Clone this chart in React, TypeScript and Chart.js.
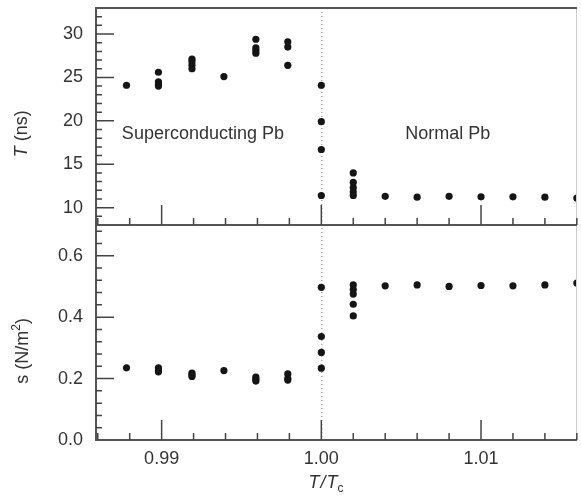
import React, { useEffect, useRef } from "react";
import { Chart, registerables } from "chart.js";

Chart.register(...registerables);

// Reduced temperature T/Tc for each measurement column
const ratio = [0.9878, 0.9898, 0.9919, 0.9939, 0.9959, 0.9979, 1.0, 1.002, 1.004, 1.006, 1.008, 1.01, 1.012, 1.014, 1.016];

// Top panel: T (ns)
const periodNs: number[][] = [
  [24.1],
  [25.6, 24.5, 24.2, 24.0],
  [27.1, 26.8, 26.4, 26.0],
  [25.1],
  [29.4, 28.4, 28.1, 27.8],
  [29.1, 28.5, 26.4],
  [24.1, 19.9, 16.7, 11.4],
  [14.0, 12.9, 12.3, 11.8, 11.4],
  [11.3],
  [11.2],
  [11.3],
  [11.25],
  [11.25],
  [11.2],
  [11.1],
];

// Bottom panel: s (N/m^2)
const stressNm2: number[][] = [
  [0.235],
  [0.235, 0.228, 0.222],
  [0.218, 0.212, 0.207],
  [0.226],
  [0.205, 0.198, 0.192],
  [0.215, 0.2, 0.195],
  [0.497, 0.337, 0.285, 0.234],
  [0.505, 0.49, 0.475, 0.442, 0.404],
  [0.502],
  [0.505],
  [0.5],
  [0.503],
  [0.502],
  [0.505],
  [0.511],
];

const xTicks = [0.99, 1.0, 1.01];
const topTicks = [10, 15, 20, 25, 30];
const bottomTicks = [0.0, 0.2, 0.4, 0.6];

const X_MIN = 0.98589;
const X_MAX = 1.01601;
const TOP_MIN = 8;
const TOP_MAX = 33;
const BOT_MIN = 0;
const BOT_MAX = 0.7;

const FONT = '"Liberation Sans", Arial, sans-serif';
const TEXT = "#333";

type Part = { t: string; italic?: boolean; size?: number; dy?: number; gap?: number };

function drawRich(ctx: CanvasRenderingContext2D, parts: Part[], cx: number, cy: number, rot: number) {
  ctx.save();
  ctx.translate(cx, cy);
  ctx.rotate(rot);
  ctx.fillStyle = TEXT;
  ctx.textBaseline = "middle";
  ctx.textAlign = "left";
  const fontOf = (p: Part) => `${p.italic ? "italic " : ""}${p.size || 18}px ${FONT}`;
  let total = 0;
  for (const p of parts) {
    ctx.font = fontOf(p);
    total += ctx.measureText(p.t).width + (p.gap || 0);
  }
  let x = -total / 2;
  for (const p of parts) {
    ctx.font = fontOf(p);
    ctx.fillText(p.t, x, p.dy || 0);
    x += ctx.measureText(p.t).width + (p.gap || 0);
  }
  ctx.restore();
}

const panelPlugin = {
  id: "panelPlugin",
  beforeDatasetsDraw(chart: any) {
    const { ctx, chartArea, scales } = chart;
    const px = scales.x.getPixelForValue(1.0);
    ctx.save();
    ctx.strokeStyle = "#777";
    ctx.lineWidth = 1;
    ctx.setLineDash([1, 3]);
    ctx.beginPath();
    ctx.moveTo(px + 0.5, chartArea.top + 4);
    ctx.lineTo(px + 0.5, chartArea.bottom);
    ctx.stroke();
    ctx.restore();
  },
  afterDraw(chart: any) {
    const { ctx, chartArea, scales } = chart;
    const sx = scales.x;
    const sy = scales.y;
    const sy2 = scales.y2;
    const left = chartArea.left;
    const right = chartArea.right;
    const mid = sy.bottom;
    const bottom = chartArea.bottom;
    const top = chartArea.top;

    ctx.save();
    // frame
    ctx.strokeStyle = "#ccc";
    ctx.lineWidth = 1;
    ctx.beginPath();
    ctx.moveTo(right - 0.5, top);
    ctx.lineTo(right - 0.5, bottom);
    ctx.stroke();

    ctx.strokeStyle = "#555";
    ctx.lineWidth = 2;
    ctx.beginPath();
    ctx.moveTo(left, top);
    ctx.lineTo(right, top);
    ctx.moveTo(left, mid);
    ctx.lineTo(right, mid);
    ctx.moveTo(left, bottom);
    ctx.lineTo(right, bottom);
    ctx.moveTo(left, top - 1);
    ctx.lineTo(left, bottom + 1);
    ctx.stroke();

    ctx.strokeStyle = "#444";
    ctx.lineWidth = 1.5;
    ctx.beginPath();
    // y ticks top panel
    for (let v = TOP_MIN + 1; v < TOP_MAX; v++) {
      const y = sy.getPixelForValue(v);
      const len = topTicks.includes(v) ? 18 : 6;
      ctx.moveTo(left, y);
      ctx.lineTo(left + len, y);
    }
    // y ticks bottom panel
    for (let i = 1; i * 0.04 < BOT_MAX - 0.001; i++) {
      const v = i * 0.04;
      const y = sy2.getPixelForValue(v);
      ctx.moveTo(left, y);
      ctx.lineTo(left + 6, y);
    }
    for (const v of bottomTicks) {
      if (v === 0) continue;
      const y = sy2.getPixelForValue(v);
      ctx.moveTo(left, y);
      ctx.lineTo(left + 18, y);
    }
    // x ticks on both panels
    for (let i = 0; i <= 15; i++) {
      const v = 0.986 + i * 0.002;
      if (v > X_MAX) break;
      const isMajor = xTicks.some((t) => Math.abs(t - v) < 1e-6);
      const x = sx.getPixelForValue(v);
      const len = isMajor ? 20 : 7;
      for (const base of [mid, bottom]) {
        ctx.moveTo(x, base);
        ctx.lineTo(x, base - len);
      }
    }
    ctx.stroke();

    // annotations
    ctx.fillStyle = TEXT;
    ctx.font = `18px ${FONT}`;
    ctx.textBaseline = "middle";
    ctx.textAlign = "left";
    ctx.fillText("Superconducting Pb", sx.getPixelForValue(0.98751), sy.getPixelForValue(18.5));
    ctx.fillText("Normal Pb", sx.getPixelForValue(1.00525), sy.getPixelForValue(18.5));

    // axis titles
    drawRich(ctx, [{ t: "T", italic: true }, { t: " (ns)" }], 22, sy.getPixelForValue(18.5), -Math.PI / 2);
    drawRich(
      ctx,
      [{ t: "s (N/m" }, { t: "2", size: 12, dy: -6 }, { t: ")" }],
      23,
      sy2.getPixelForValue(0.29),
      -Math.PI / 2
    );
    drawRich(
      ctx,
      [
        { t: "T", italic: true, gap: 1 },
        { t: "/", italic: true, gap: 1 },
        { t: "T", italic: true },
        { t: "c", size: 12, dy: 6 },
      ],
      sx.getPixelForValue(1.0003),
      483,
      0
    );
    ctx.restore();
  },
};

function pointsFrom(values: number[][]) {
  const out: { x: number; y: number }[] = [];
  values.forEach((col, i) => col.forEach((v) => out.push({ x: ratio[i], y: v })));
  return out;
}

function noPad(s: any) {
  s.paddingTop = 0;
  s.paddingBottom = 0;
  s.paddingLeft = 0;
  s.paddingRight = 0;
}

export default function App() {
  const ref = useRef<HTMLCanvasElement | null>(null);
  useEffect(() => {
    if (!ref.current) return;
    const tickFont = { family: FONT, size: 18 };
    const chart = new Chart(ref.current, {
      type: "scatter",
      data: {
        datasets: [
          {
            label: "T",
            data: pointsFrom(periodNs),
            yAxisID: "y",
            backgroundColor: "#151515",
            borderWidth: 0,
            pointRadius: 3.6,
          },
          {
            label: "s",
            data: pointsFrom(stressNm2),
            yAxisID: "y2",
            backgroundColor: "#151515",
            borderWidth: 0,
            pointRadius: 3.6,
          },
        ],
      },
      options: {
        animation: false,
        responsive: false,
        devicePixelRatio: 1,
        layout: { padding: { top: 8, right: 1, left: 0, bottom: 0 } },
        plugins: { legend: { display: false }, tooltip: { enabled: false } },
        scales: {
          x: {
            type: "linear",
            position: "bottom",
            min: X_MIN,
            max: X_MAX,
            grid: { display: false, drawTicks: false },
            border: { display: false },
            ticks: {
              font: tickFont,
              color: TEXT,
              padding: 8,
              maxRotation: 0,
              callback: (v: any) => Number(v).toFixed(2),
            },
            afterBuildTicks: (s: any) => {
              s.ticks = xTicks.map((v) => ({ value: v }));
            },
            afterFit: (s: any) => {
              s.height = 60;
              noPad(s);
            },
          },
          y2: {
            type: "linear",
            position: "left",
            stack: "panels",
            stackWeight: 215,
            min: BOT_MIN,
            max: BOT_MAX,
            grid: { display: false, drawTicks: false },
            border: { display: false },
            ticks: { font: tickFont, color: TEXT, padding: 13, callback: (v: any) => Number(v).toFixed(1) },
            afterBuildTicks: (s: any) => {
              s.ticks = bottomTicks.map((v) => ({ value: v }));
            },
            afterFit: (s: any) => {
              s.width = 96;
              noPad(s);
            },
          },
          y: {
            type: "linear",
            position: "left",
            stack: "panels",
            stackWeight: 217,
            min: TOP_MIN,
            max: TOP_MAX,
            grid: { display: false, drawTicks: false },
            border: { display: false },
            ticks: { font: tickFont, color: TEXT, padding: 13, callback: (v: any) => String(v) },
            afterBuildTicks: (s: any) => {
              s.ticks = topTicks.map((v) => ({ value: v }));
            },
            afterFit: (s: any) => {
              s.width = 96;
              noPad(s);
            },
          },
        },
      },
      plugins: [panelPlugin],
    } as any);
    return () => chart.destroy();
  }, []);
  return (
    <div style={{ position: "fixed", left: 0, top: 0, width: 581, height: 500, background: "#fff" }}>
      <canvas ref={ref} width={581} height={500} style={{ display: "block" }} />
    </div>
  );
}
